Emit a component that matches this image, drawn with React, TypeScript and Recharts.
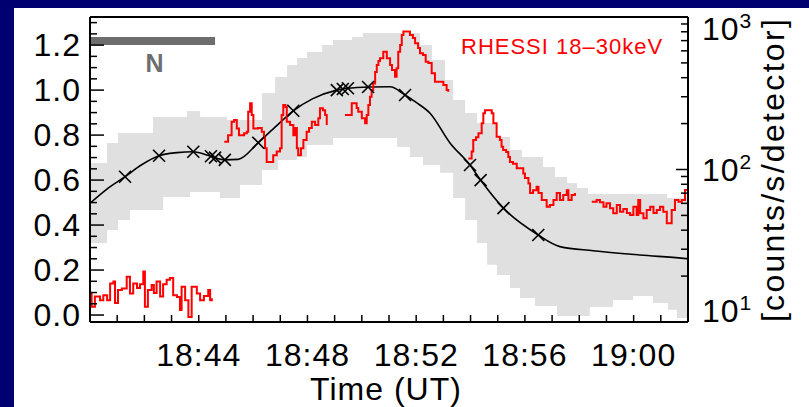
import React from 'react';
import { ComposedChart, XAxis, YAxis, Area, Line, ReferenceLine, Legend } from 'recharts';

// minutes after 18:40 UT
const minuteTicks = [0, 1, 2, 3, 4, 5, 6, 7, 8, 9, 10, 11, 12, 13, 14, 15, 16, 17, 18, 19, 20, 21, 22];
const timeTickMinutes = [4, 8, 12, 16, 20];
const timeTickLabels = ['18:44', '18:48', '18:52', '18:56', '19:00'];

const leftTicks = [0, 0.05, 0.1, 0.15, 0.2, 0.25, 0.3, 0.35, 0.4, 0.45, 0.5, 0.55, 0.6, 0.65, 0.7, 0.75, 0.8, 0.85, 0.9, 0.95, 1.0, 1.05, 1.1, 1.15, 1.2, 1.25, 1.3];
const leftLabelValues = [0, 0.2, 0.4, 0.6, 0.8, 1.0, 1.2];
const leftLabels = ['0.0', '0.2', '0.4', '0.6', '0.8', '1.0', '1.2'];

const rightTicks = [10, 20, 30, 40, 50, 60, 70, 80, 90, 100, 200, 300, 400, 500, 600, 700, 800, 900, 1000];
const rightLabelValues = [10, 100, 1000];
const rightLabelExps = ['1', '2', '3'];

// grey uncertainty band (left axis)
const bandMinutes = [0, 0.625, 1.03, 1.47, 2.32, 2.69, 3.57, 3.68, 4.05, 4.78, 5.04, 5.52, 6.33, 6.81, 6.92, 7.25, 7.62, 7.98, 8.54, 8.94, 9.64, 10.04, 11.3, 11.77, 12.14, 12.25, 12.58, 12.88, 13.06, 13.36, 13.8, 14.24, 14.61, 14.97, 15.45, 15.82, 15.89, 16.37, 16.67, 17.11, 17.18, 17.55, 17.92, 18.32, 18.39, 19.24, 19.98, 20.71, 21.23, 21.26, 21.59, 22.0];
const bandHigh = [0.676, 0.765, 0.809, 0.809, 0.88, 0.88, 0.907, 0.907, 0.88, 0.88, 0.867, 0.867, 0.987, 1.058, 1.058, 1.112, 1.143, 1.169, 1.2, 1.223, 1.236, 1.254, 1.254, 1.254, 1.2, 1.2, 1.134, 1.134, 1.045, 0.956, 0.898, 0.854, 0.854, 0.792, 0.734, 0.734, 0.703, 0.703, 0.658, 0.614, 0.614, 0.587, 0.565, 0.538, 0.538, 0.538, 0.538, 0.538, 0.52, 0.52, 0.52, 0.52];
const bandLow = [0.32, 0.378, 0.423, 0.467, 0.467, 0.525, 0.525, 0.547, 0.547, 0.52, 0.52, 0.578, 0.645, 0.645, 0.689, 0.689, 0.703, 0.756, 0.756, 0.787, 0.787, 0.787, 0.747, 0.703, 0.703, 0.667, 0.667, 0.632, 0.632, 0.52, 0.423, 0.32, 0.223, 0.178, 0.12, 0.076, 0.076, 0.04, 0.04, 0.04, -0.004, -0.004, -0.004, -0.004, 0.036, 0.067, 0.085, 0.054, 0.054, 0.023, -0.013, -0.013];

// black fitted curve and its x markers (left axis)
const fitMinutes = [0, 0.6, 1.29, 1.9, 2.54, 3.2, 3.8, 4.45, 4.96, 5.45, 6.19, 6.85, 7.48, 8.2, 9.08, 9.44, 10.3, 11.04, 11.59, 12.0, 12.51, 13.25, 13.98, 14.37, 15.21, 16.49, 17.29, 18.51, 20.23, 21.83, 22];
const fitValues = [0.497, 0.558, 0.615, 0.668, 0.708, 0.722, 0.726, 0.706, 0.69, 0.692, 0.766, 0.84, 0.908, 0.962, 1.0, 1.008, 1.014, 1.015, 0.978, 0.945, 0.897, 0.764, 0.667, 0.6, 0.475, 0.356, 0.304, 0.286, 0.267, 0.252, 0.25];
const crossMinutes = [1.29, 2.54, 3.8, 4.45, 4.6, 4.96, 6.19, 7.48, 9.08, 9.3, 9.49, 10.23, 11.59, 13.98, 14.37, 15.21, 16.49];
const crossValues = [0.615, 0.708, 0.726, 0.706, 0.7, 0.69, 0.766, 0.908, 1.0, 1.005, 1.008, 1.014, 0.978, 0.667, 0.6, 0.475, 0.356];

// RHESSI 18-30 keV counts/s/detector (right axis), four stretches
const rhessiT1 = [0, 0.06, 0.18, 0.37, 0.49, 0.63, 0.74, 0.86, 0.92, 1.03, 1.17, 1.35, 1.47, 1.59, 1.73, 1.84, 1.96, 2.02, 2.13, 2.27, 2.35, 2.45, 2.58, 2.69, 2.82, 2.94, 3.06, 3.2, 3.31, 3.37, 3.5, 3.62, 3.74, 3.93, 4.05, 4.19, 4.35, 4.42, 4.48];
const rhessiC1 = [15.4, 12.6, 14.7, 13.9, 15.0, 13.9, 17.9, 18.4, 13.3, 16.2, 16.6, 19.8, 15.4, 17.9, 16.7, 17.7, 21.4, 12.6, 16.2, 17.5, 15.5, 18.4, 14.7, 17.7, 18.9, 19.4, 15.0, 14.6, 12.0, 17.0, 13.9, 10.8, 17.0, 15.4, 13.9, 14.8, 16.2, 13.9, 14.3];
const rhessiT2 = [4.94, 5.08, 5.21, 5.3, 5.4, 5.48, 5.67, 5.77, 5.82, 5.89, 5.95, 6.01, 6.18, 6.32, 6.4, 6.44, 6.5, 6.62, 6.74, 6.87, 6.99, 7.05, 7.11, 7.19, 7.24, 7.36, 7.48, 7.54, 7.61, 7.66, 7.76, 7.85, 7.97, 8.06, 8.16, 8.28, 8.4, 8.46, 8.57, 8.65, 8.71];
const rhessiC2 = [152, 168, 206, 211, 186, 168, 173, 177, 239, 272, 228, 186, 187, 177, 161, 138, 112, 112, 124, 131, 138, 228, 265, 257, 206, 196, 168, 187, 138, 124, 138, 156, 177, 187, 206, 196, 217, 252, 245, 228, 196];
const rhessiT3 = [9.38, 9.49, 9.63, 9.75, 9.81, 9.87, 10.0, 10.12, 10.18, 10.24, 10.3, 10.36, 10.42, 10.49, 10.55, 10.61, 10.67, 10.79, 10.85, 10.92, 10.98, 11.04, 11.11, 11.22, 11.28, 11.34, 11.41, 11.47, 11.53, 11.7, 11.77, 11.88, 11.96, 12.07, 12.14, 12.25, 12.35, 12.45, 12.57, 12.69, 12.88, 13.0, 13.12, 13.18];
const rhessiC3 = [228, 228, 272, 272, 253, 239, 217, 201, 228, 265, 300, 332, 367, 436, 484, 514, 536, 592, 592, 536, 536, 484, 449, 406, 461, 592, 655, 762, 802, 802, 762, 728, 672, 626, 578, 563, 509, 499, 427, 376, 376, 358, 332, 324];
const rhessiT4 = [13.92, 14.04, 14.1, 14.2, 14.29, 14.41, 14.47, 14.53, 14.72, 14.78, 14.84, 14.96, 15.08, 15.14, 15.2, 15.31, 15.39, 15.45, 15.56, 15.7, 15.82, 15.94, 16.0, 16.13, 16.19, 16.3, 16.43, 16.5, 16.62, 16.8, 16.92, 17.05, 17.17, 17.29, 17.41, 17.54, 17.6, 17.72, 17.84];
const rhessiC4 = [118, 131, 156, 163, 173, 201, 234, 245, 245, 234, 201, 164, 156, 141, 134, 130, 121, 112, 109, 102, 102, 94, 88, 81, 70, 73, 77, 70, 63, 57, 58.5, 63, 70, 63, 68, 73, 63, 68, 70];
const rhessiT5 = [18.46, 18.64, 18.76, 18.89, 19.0, 19.13, 19.25, 19.38, 19.5, 19.62, 19.75, 19.87, 19.99, 20.11, 20.17, 20.24, 20.36, 20.48, 20.61, 20.73, 20.85, 20.97, 21.09, 21.22, 21.34, 21.4, 21.52, 21.65, 21.77, 21.89, 22.0];
const rhessiC5 = [61.5, 63, 61, 57, 60, 55.7, 51.6, 58.5, 52.8, 55, 51.8, 50.3, 57, 50.3, 63, 51.6, 47.9, 54.2, 57, 51.8, 54.2, 57, 52.8, 44.4, 44.4, 54.2, 63, 61.5, 63, 73.4, 66.3];

// grey "N" bar
const nBarLevel = 1.218;
const nBarEnd = 4.6;

const band = bandMinutes.map((t, i) => ({ t, range: [bandLow[i], bandHigh[i]] }));
const fit = fitMinutes.map((t, i) => ({ t, v: fitValues[i] }));
const crosses = crossMinutes.map((t, i) => ({ t, v: crossValues[i] }));
const seg = (ts: number[], cs: number[]) => ts.map((t, i) => ({ t, c: cs[i] as number | null }));
const rhessi = [
  ...seg(rhessiT1, rhessiC1), { t: 4.7, c: null },
  ...seg(rhessiT2, rhessiC2), { t: 8.9, c: null },
  ...seg(rhessiT3, rhessiC3), { t: 13.5, c: null },
  ...seg(rhessiT4, rhessiC4), { t: 18.1, c: null },
  ...seg(rhessiT5, rhessiC5),
];

const FONT = '"Liberation Sans", Arial, sans-serif';
const tickFont = { fontFamily: FONT, fontSize: 32, letterSpacing: 1, fill: '#000' };
const axisLine = { stroke: '#000', strokeWidth: 2 };

const BottomTick = (props: any) => {
  const { x, y, payload } = props;
  const i = timeTickMinutes.indexOf(payload.value);
  return (
    <g>
      <line x1={x} x2={x} y1={y} y2={y - 7} stroke="#000" strokeWidth={1.5} />
      {i >= 0 && <text x={x} y={y + 44} textAnchor="middle" style={tickFont}>{timeTickLabels[i]}</text>}
    </g>
  );
};

const TopTick = (props: any) => {
  const { x, y } = props;
  return <line x1={x} x2={x} y1={y} y2={y + 7} stroke="#000" strokeWidth={1.5} />;
};

const LeftTick = (props: any) => {
  const { x, y, payload } = props;
  const i = leftLabelValues.findIndex((v) => Math.abs(v - payload.value) < 1e-6);
  return (
    <g>
      <line x1={x} x2={x + (i >= 0 ? 14 : 7)} y1={y} y2={y} stroke="#000" strokeWidth={1.5} />
      {i >= 0 && <text x={x - 9} y={y + 11} textAnchor="end" style={tickFont}>{leftLabels[i]}</text>}
    </g>
  );
};

const RightTick = (props: any) => {
  const { x, y, payload } = props;
  const i = rightLabelValues.indexOf(payload.value);
  const shift = i === 2 ? 12 : i === 0 ? -11 : 0;
  return (
    <g>
      <line x1={x} x2={x - (i >= 0 ? 12 : 7)} y1={y} y2={y} stroke="#000" strokeWidth={1.5} />
      {i >= 0 && (
        <text x={x + 14} y={y + shift + 11} style={tickFont}>
          10<tspan fontSize={21} dy={-12}>{rightLabelExps[i]}</tspan>
        </text>
      )}
    </g>
  );
};

const CrossDot = (props: any) => {
  const { cx, cy } = props;
  if (cx == null || cy == null) return <g />;
  return (
    <g>
      <line x1={cx - 6} y1={cy - 6} x2={cx + 6} y2={cy + 6} stroke="#000" strokeWidth={1.6} />
      <line x1={cx - 6} y1={cy + 6} x2={cx + 6} y2={cy - 6} stroke="#000" strokeWidth={1.6} />
    </g>
  );
};

const timeLabel = (props: any) => {
  const vb = props.viewBox;
  return (
    <text x={vb.x + vb.width / 2 - 3} y={vb.y + 78} textAnchor="middle" style={tickFont}>
      Time (UT)
    </text>
  );
};

const countsLabel = (props: any) => {
  const vb = props.viewBox;
  const cx = vb.x + 85;
  const cy = vb.y + vb.height / 2;
  return (
    <text
      x={cx}
      y={cy}
      textAnchor="middle"
      dominantBaseline="central"
      transform={`rotate(-90, ${cx}, ${cy})`}
      style={{ ...tickFont, letterSpacing: 2.3 }}
    >
      [counts/s/detector]
    </text>
  );
};

const nLabel = (props: any) => {
  const vb = props.viewBox;
  return (
    <text
      x={vb.x + vb.width / 2 + 2}
      y={vb.y + 31}
      textAnchor="middle"
      style={{ fontFamily: FONT, fontSize: 25, fontWeight: 'bold', fill: '#6e6e6e' }}
    >
      N
    </text>
  );
};

const RhessiLegend = () => (
  <div style={{ color: '#ff0000', fontFamily: FONT, fontSize: 22, lineHeight: '22px', letterSpacing: 1, whiteSpace: 'nowrap' }}>
    RHESSI 18–30keV
  </div>
);

export default function App() {
  return (
    <div style={{ position: 'absolute', left: 0, top: 0, width: 809, height: 407, background: '#000070' }}>
      <div style={{ position: 'absolute', left: 14, top: 8, width: 795, height: 399, background: '#fff' }}>
        <ComposedChart width={795} height={399} margin={{ top: 0, right: 0, bottom: 0, left: 0 }}>
          <XAxis
            type="number"
            dataKey="t"
            domain={[0, 22]}
            ticks={minuteTicks}
            interval={0}
            allowDataOverflow
            height={85}
            tickSize={0}
            tickMargin={0}
            tickLine={false}
            axisLine={axisLine}
            tick={<BottomTick />}
            label={timeLabel}
          />
          <XAxis
            xAxisId="top"
            orientation="top"
            type="number"
            domain={[0, 22]}
            ticks={minuteTicks}
            interval={0}
            allowDataOverflow
            height={9}
            tickSize={0}
            tickMargin={0}
            tickLine={false}
            axisLine={axisLine}
            tick={<TopTick />}
          />
          <YAxis
            yAxisId="left"
            type="number"
            domain={[-0.031, 1.325]}
            ticks={leftTicks}
            interval={0}
            allowDataOverflow
            width={76}
            tickSize={0}
            tickMargin={0}
            tickLine={false}
            axisLine={axisLine}
            tick={<LeftTick />}
          />
          <YAxis
            yAxisId="right"
            orientation="right"
            type="number"
            scale="log"
            domain={[10, 1000]}
            ticks={rightTicks}
            interval={0}
            allowDataOverflow
            width={121}
            tickSize={0}
            tickMargin={0}
            tickLine={false}
            axisLine={axisLine}
            tick={<RightTick />}
            label={countsLabel}
          />
          <Area
            yAxisId="left"
            data={band}
            dataKey="range"
            type="stepAfter"
            stroke="none"
            fill="#e0e0e0"
            fillOpacity={1}
            isAnimationActive={false}
          />
          <Line
            yAxisId="left"
            data={fit}
            dataKey="v"
            type="monotone"
            stroke="#000"
            strokeWidth={1.6}
            dot={false}
            isAnimationActive={false}
          />
          <Line
            yAxisId="left"
            data={crosses}
            dataKey="v"
            stroke="none"
            dot={<CrossDot />}
            isAnimationActive={false}
          />
          <Line
            yAxisId="right"
            data={rhessi}
            dataKey="c"
            type="stepAfter"
            stroke="#ff0000"
            strokeWidth={2}
            dot={false}
            connectNulls={false}
            isAnimationActive={false}
          />
          <ReferenceLine
            yAxisId="left"
            segment={[{ x: 0, y: nBarLevel }, { x: nBarEnd, y: nBarLevel }]}
            stroke="#6e6e6e"
            strokeWidth={8}
            label={nLabel}
          />
          <Legend
            layout="horizontal"
            verticalAlign="middle"
            align="center"
            wrapperStyle={{ position: 'absolute', left: 447, top: 28, width: 'auto' }}
            content={<RhessiLegend />}
          />
        </ComposedChart>
      </div>
    </div>
  );
}
